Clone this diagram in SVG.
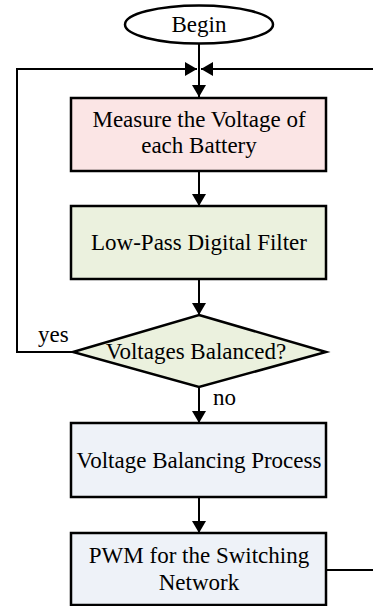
<svg xmlns="http://www.w3.org/2000/svg" width="373" height="606" viewBox="0 0 373 606">
<style>
.t{font-family:"Liberation Serif","Times New Roman",serif;font-size:23px;fill:#000;}
.c{text-anchor:middle;}
.b{stroke:#000;stroke-width:2.5;}
.l{fill:none;stroke:#000;stroke-width:2;}
</style>
<defs>
<marker id="ah" viewBox="0 0 12 14" refX="12" refY="7" markerWidth="12" markerHeight="14" markerUnits="userSpaceOnUse" orient="auto">
<path d="M0,0 L12,7 L0,14 z" fill="#000"/>
</marker>
</defs>
<rect width="373" height="606" fill="#fff"/>
<g id="connectors">
<path class="l" d="M199,43 V97" marker-end="url(#ah)"/>
<path class="l" d="M199,171 V206" marker-end="url(#ah)"/>
<path class="l" d="M199,279 V315" marker-end="url(#ah)"/>
<path class="l" d="M199,387 V423" marker-end="url(#ah)"/>
<path class="l" d="M199,497 V533" marker-end="url(#ah)"/>
<path class="l" d="M73,352 H17 V69 H197" marker-end="url(#ah)"/>
<path class="l" d="M326,570 H385 V69 H201" marker-end="url(#ah)"/>
<text class="t" x="38" y="342">yes</text>
<text class="t" x="213" y="405">no</text>
</g>
<g id="begin">
<ellipse class="b" cx="199" cy="24.5" rx="74" ry="19" fill="#fff"/>
<text class="t c" x="199" y="32">Begin</text>
</g>
<g id="measure">
<rect class="b" x="71" y="98" width="255" height="73" fill="#fbe5e5"/>
<text class="t c" x="199" y="127">Measure the Voltage of</text>
<text class="t c" x="199" y="153">each Battery</text>
</g>
<g id="filter">
<rect class="b" x="71" y="206" width="255" height="73" fill="#ebf1de"/>
<text class="t c" x="199" y="250">Low-Pass Digital Filter</text>
</g>
<g id="decision">
<polygon class="b" points="199,315 326,352 199,387 73,352" fill="#ebf1de" stroke-linejoin="miter"/>
<text class="t c" x="196" y="359">Voltages Balanced?</text>
</g>
<g id="balancing">
<rect class="b" x="71" y="423" width="255" height="74" fill="#eef2f8"/>
<text class="t c" x="199" y="468">Voltage Balancing Process</text>
</g>
<g id="pwm">
<rect class="b" x="71" y="533" width="255" height="72" fill="#eef2f8"/>
<text class="t c" x="199" y="563">PWM for the Switching</text>
<text class="t c" x="199" y="590">Network</text>
</g>
</svg>
